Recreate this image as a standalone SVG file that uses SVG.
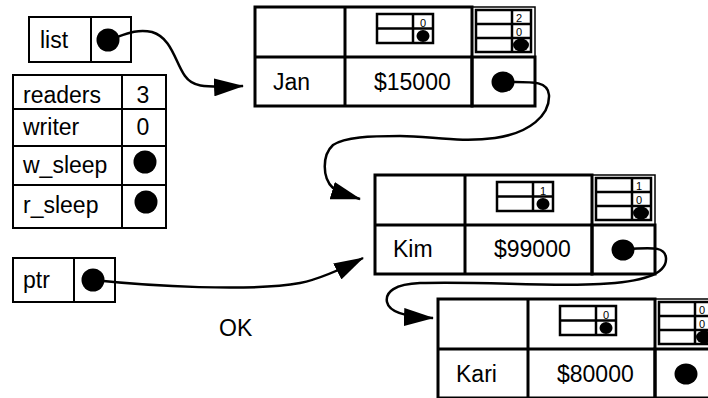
<svg xmlns="http://www.w3.org/2000/svg" xmlns:xlink="http://www.w3.org/1999/xlink" width="708" height="398" viewBox="0 0 708 398">
<style>
  .thick{fill:none;stroke:#000;stroke-width:3}
  .thin{fill:none;stroke:#000;stroke-width:1.5}
  .mid{fill:none;stroke:#000;stroke-width:2.5}
  .tb{fill:none;stroke:#000;stroke-width:2}
  .big{font-family:"Liberation Sans",Arial,sans-serif;font-size:23px;fill:#000}
  .mv{font-family:"Liberation Sans",Arial,sans-serif;font-size:23px;fill:#000;text-anchor:middle}
  .small{font-family:"Liberation Sans",Arial,sans-serif;font-size:11px;fill:#000;text-anchor:middle}
  .conn{fill:none;stroke:#000;stroke-width:2.5}
  .dot{fill:#000}
</style>
<defs>
  <marker id="arr" viewBox="0 0 30 18" refX="29" refY="9" markerWidth="30" markerHeight="18" markerUnits="userSpaceOnUse" orient="auto">
    <path d="M0,0 L30,9 L0,18 z" fill="#000"/>
  </marker>
  <g id="rec">
    <rect x="0" y="0" width="217" height="99" class="thick"/>
    <line x1="0" y1="50" x2="217" y2="50" class="thick"/>
    <line x1="90" y1="0" x2="90" y2="99" class="thick"/>
    <rect x="217" y="0" width="63" height="50" class="thin"/>
    <rect x="217" y="50" width="63" height="49" class="thick"/>
    <ellipse cx="168" cy="29" rx="6.5" ry="6" class="dot"/>
    <rect x="122" y="7" width="56" height="29" class="mid"/>
    <line x1="158" y1="7" x2="158" y2="36" class="mid"/>
    <line x1="122" y1="21.5" x2="178" y2="21.5" class="mid"/>
    <ellipse cx="266" cy="38" rx="8" ry="6.5" class="dot"/>
    <rect x="221" y="3" width="55" height="42" class="mid"/>
    <line x1="257" y1="3" x2="257" y2="45" class="mid"/>
    <line x1="221" y1="17" x2="276" y2="17" class="mid"/>
    <line x1="221" y1="31" x2="276" y2="31" class="mid"/>
    <ellipse cx="248" cy="75" rx="11.5" ry="10.5" class="dot"/>
  </g>
</defs>
<rect width="708" height="398" fill="#fff"/>

<g id="connectors">
  <path class="conn" marker-end="url(#arr)" d="M108,40 C122,36 135,28 152,32 C172,38 175,62 185,76 C192,86 200,88 243,86"/>
  <path class="conn" marker-end="url(#arr)" d="M503,82 C530,82 548,80 549,95 C550,115 530,133 495,138 C460,143 430,136 400,136 C370,136 345,137 333,145 C322,155 322,178 333,188 C340,193 350,196 360,199"/>
  <path class="conn" marker-end="url(#arr)" d="M93,280 C150,286 250,292 300,283 C320,279 340,270 363,258"/>
  <path class="conn" marker-end="url(#arr)" d="M623,249 C645,249 665,244 666,258 C667,275 640,282 600,284 C550,287 480,281 420,283 C395,284 385,292 387,302 C389,312 405,317 433,318"/>
</g>

<g id="list">
  <rect x="29" y="17" width="102" height="45" class="tb"/>
  <line x1="91" y1="17" x2="91" y2="62" class="tb"/>
  <text class="big" x="40" y="48">list</text>
  <circle cx="108" cy="40" r="11.5" class="dot"/>
</g>

<g id="lock">
  <rect x="13" y="75" width="153" height="153" class="tb"/>
  <line x1="122" y1="75" x2="122" y2="228" class="tb"/>
  <line x1="13" y1="109" x2="166" y2="109" class="tb"/>
  <line x1="13" y1="146" x2="166" y2="146" class="tb"/>
  <line x1="13" y1="185" x2="166" y2="185" class="tb"/>
  <text class="big" x="23" y="103">readers</text>
  <text class="mv" x="143" y="103">3</text>
  <text class="big" x="23" y="135">writer</text>
  <text class="mv" x="143" y="135">0</text>
  <text class="big" x="23" y="173">w_sleep</text>
  <circle cx="145" cy="162" r="11.5" class="dot"/>
  <text class="big" x="23" y="213">r_sleep</text>
  <circle cx="146" cy="202" r="11.5" class="dot"/>
</g>

<g id="ptr">
  <rect x="13" y="258" width="102" height="44" class="tb"/>
  <line x1="74" y1="258" x2="74" y2="302" class="tb"/>
  <text class="big" x="23" y="288">ptr</text>
  <circle cx="93" cy="280" r="11.5" class="dot"/>
</g>

<text id="ok" class="big" x="219" y="336">OK</text>

<g id="node-jan" transform="translate(255,7)">
  <use xlink:href="#rec" href="#rec"/>
  <text class="big" x="18" y="83">Jan</text>
  <text class="big" x="119" y="83">$15000</text>
  <text class="small" x="168" y="19.5">0</text>
  <text class="small" x="264" y="15">2</text>
  <text class="small" x="264" y="29">0</text>
</g>

<g id="node-kim" transform="translate(375,175)">
  <use xlink:href="#rec" href="#rec"/>
  <text class="big" x="18" y="82">Kim</text>
  <text class="big" x="119" y="82">$99000</text>
  <text class="small" x="168" y="19.5">1</text>
  <text class="small" x="264" y="15">1</text>
  <text class="small" x="264" y="29">0</text>
</g>

<g id="node-kari" transform="translate(438,299)">
  <use xlink:href="#rec" href="#rec"/>
  <text class="big" x="18" y="83">Kari</text>
  <text class="big" x="119" y="83">$80000</text>
  <text class="small" x="168" y="19.5">0</text>
  <text class="small" x="264" y="15">0</text>
  <text class="small" x="264" y="29">0</text>
</g>
</svg>
